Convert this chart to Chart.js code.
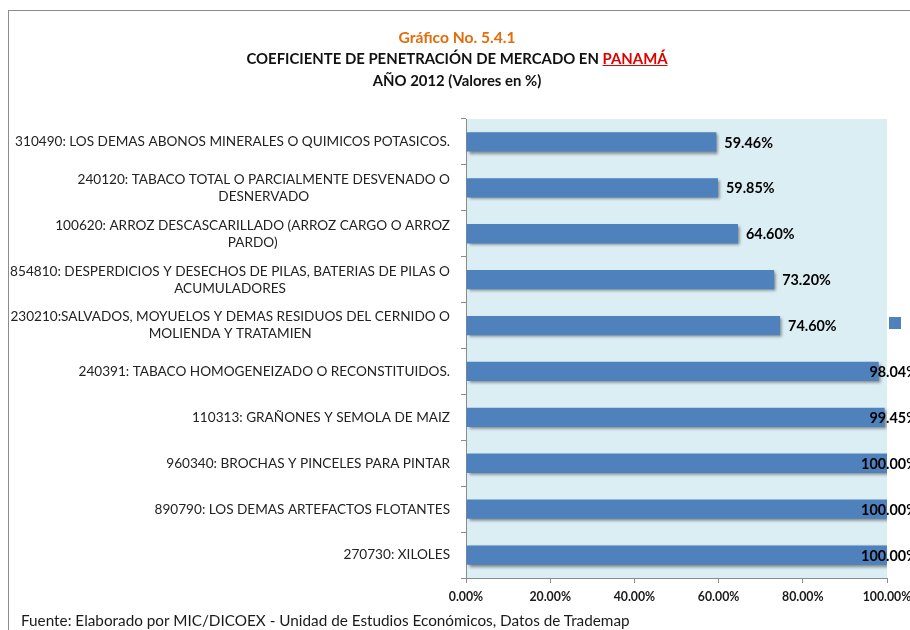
<!DOCTYPE html>
<html>
<head>
<meta charset="utf-8">
<script src="https://cdn.jsdelivr.net/npm/chart.js@4.4.1/dist/chart.umd.min.js"></script>
<style>
  html, body { margin:0; padding:0; width:910px; height:630px; overflow:hidden; background:#fff; }
  #wrap { position:relative; width:910px; height:630px; }
  #frame { position:absolute; left:8px; top:10px; width:1000px; height:700px; border-left:1px solid #8c8c8c; border-top:1px solid #8c8c8c; }
  canvas { position:absolute; left:0; top:0; }
  .t { position:absolute; left:0; width:914px; text-align:center; font-family:Lato, "Open Sans", sans-serif; font-weight:bold; color:#111; }
  #t1 { top:28px; font-size:15.6px; color:#E46C0A; }
  #t2 { top:49px; font-size:14.9px; }
  #t3 { top:71px; font-size:14.9px; }
  #t2 span { color:#E00000; text-decoration:underline; }
  #foot { position:absolute; left:21px; top:611px; font-family:Lato, "Open Sans", sans-serif; font-size:15.3px; color:#1a1a1a; white-space:nowrap; }
</style>
</head>
<body>
<div id="wrap">
  <div id="frame"></div>
  <canvas id="c" width="910" height="630"></canvas>
  <div class="t" id="t1">Gráfico No. 5.4.1</div>
  <div class="t" id="t2">COEFICIENTE DE PENETRACIÓN DE MERCADO EN <span>PANAMÁ</span></div>
  <div class="t" id="t3">AÑO 2012 (Valores en %)</div>
  <div id="foot">Fuente: Elaborado por MIC/DICOEX - Unidad de Estudios Económicos, Datos de Trademap</div>
</div>
<script>
const categories = [
  ["310490: LOS DEMAS ABONOS MINERALES O QUIMICOS POTASICOS."],
  ["240120: TABACO TOTAL O PARCIALMENTE DESVENADO O", "DESNERVADO"],
  ["100620: ARROZ DESCASCARILLADO (ARROZ CARGO O ARROZ", "PARDO)"],
  ["854810: DESPERDICIOS Y DESECHOS DE PILAS, BATERIAS DE PILAS O", "ACUMULADORES"],
  ["230210:SALVADOS, MOYUELOS Y DEMAS RESIDUOS DEL CERNIDO O", "MOLIENDA Y TRATAMIEN"],
  ["240391: TABACO HOMOGENEIZADO O RECONSTITUIDOS."],
  ["110313: GRAÑONES Y SEMOLA DE MAIZ"],
  ["960340: BROCHAS Y PINCELES PARA PINTAR"],
  ["890790: LOS DEMAS ARTEFACTOS FLOTANTES"],
  ["270730: XILOLES"]
];
const values = [59.46, 59.85, 64.60, 73.20, 74.60, 98.04, 99.45, 100.00, 100.00, 100.00];
const xTicks = [0, 20, 40, 60, 80, 100];

const BAR = '#4F81BD';
const FONT = 'Lato, "Open Sans", sans-serif';

const bgPlugin = {
  id: 'bg',
  beforeDraw(chart) {
    const a = chart.chartArea, ctx = chart.ctx;
    ctx.save();
    ctx.fillStyle = '#DBEEF4';
    ctx.fillRect(a.left, a.top, a.right - a.left, a.bottom - a.top);
    ctx.restore();
  }
};

const shadowPlugin = {
  id: 'shadow',
  beforeDatasetDraw(chart) {
    const ctx = chart.ctx;
    ctx.save();
    ctx.shadowColor = 'rgba(0,0,0,0.45)';
    ctx.shadowBlur = 3;
    ctx.shadowOffsetX = 2;
    ctx.shadowOffsetY = 2;
  },
  afterDatasetDraw(chart) { chart.ctx.restore(); }
};

const labelsPlugin = {
  id: 'labels',
  afterDraw(chart) {
    const ctx = chart.ctx;
    const ys = chart.scales.y;
    ctx.save();
    // category labels
    ctx.font = '13.6px ' + FONT;
    ctx.fillStyle = '#222';
    ctx.textBaseline = 'middle';
    ctx.textAlign = 'center';
    const right = 450, lh = 17;
    categories.forEach((lines, i) => {
      const yc = ys.getPixelForValue(i);
      const w = Math.max(...lines.map(l => ctx.measureText(l).width));
      const cx = right - w / 2;
      const y0 = yc - (lines.length - 1) * lh / 2;
      lines.forEach((l, k) => ctx.fillText(l, cx, y0 + k * lh));
    });
    // value labels
    ctx.font = 'bold 14.4px ' + FONT;
    ctx.fillStyle = '#000';
    ctx.textAlign = 'left';
    const meta = chart.getDatasetMeta(0);
    meta.data.forEach((el, i) => {
      const txt = values[i].toFixed(2) + '%';
      const w = ctx.measureText(txt).width;
      let x = el.x + 8;
      if (x + w > 918) x = 918 - w;
      ctx.fillText(txt, x, el.y + 1);
    });
    // legend marker (label text not visible in reference)
    ctx.fillStyle = BAR;
    ctx.fillRect(chart.chartArea.right + 2, 317, 12, 12);
    ctx.restore();
  }
};

new Chart(document.getElementById('c'), {
  type: 'bar',
  data: {
    labels: categories,
    datasets: [{
      label: '',
      data: values,
      backgroundColor: BAR,
      borderWidth: 0,
      categoryPercentage: 1,
      barPercentage: 0.42
    }]
  },
  options: {
    indexAxis: 'y',
    responsive: false,
    animation: false,
    events: [],
    layout: { padding: { left: 0, top: 119, right: 23, bottom: 0 } },
    plugins: { legend: { display: false }, title: { display: false }, tooltip: { enabled: false } },
    scales: {
      x: {
        type: 'linear',
        min: 0, max: 100,
        afterBuildTicks(s) { s.ticks = xTicks.map(v => ({ value: v })); },
        afterFit(s) { s.height = 52; s.paddingLeft = 0; s.paddingRight = 0; },
        grid: { drawOnChartArea: false, drawTicks: true, tickLength: 5, color: '#8c8c8c' },
        border: { display: true, color: '#8c8c8c' },
        ticks: {
          autoSkip: false, maxRotation: 0, padding: 7,
          color: '#1a1a1a',
          font: { family: FONT, size: 12.3, weight: 'bold' },
          callback: v => Number(v).toFixed(2) + '%'
        }
      },
      y: {
        type: 'category',
        afterFit(s) { s.width = 466; s.paddingTop = 0; s.paddingBottom = 0; },
        grid: { drawOnChartArea: false, drawTicks: true, tickLength: 5, offset: true, color: '#8c8c8c' },
        border: { display: true, color: '#8c8c8c' },
        ticks: { display: false }
      }
    }
  },
  plugins: [bgPlugin, shadowPlugin, labelsPlugin]
});
</script>
</body>
</html>
